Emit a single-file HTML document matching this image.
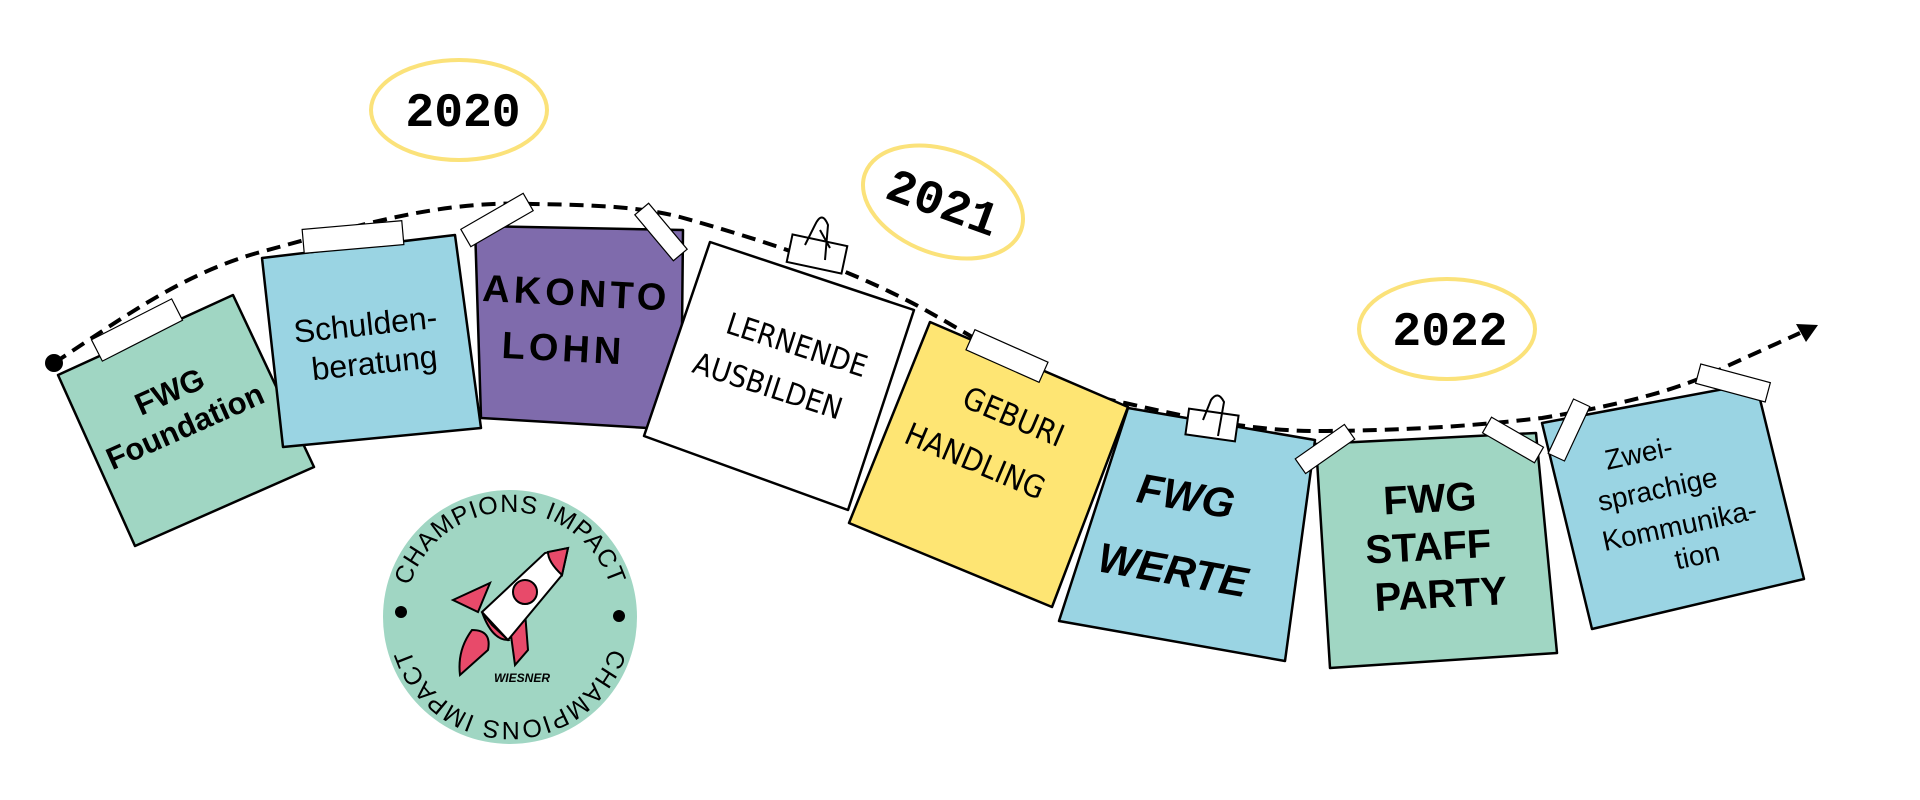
<!DOCTYPE html>
<html><head><meta charset="utf-8"><style>
html,body{margin:0;padding:0;background:#fff;}
svg{display:block}
.s{font-family:"Liberation Sans",sans-serif;}
.b{font-family:"Liberation Sans",sans-serif;font-weight:bold;}
.m{font-family:"Liberation Mono",monospace;font-weight:bold;}
.n{font-family:"DejaVu Sans Condensed","Liberation Sans",sans-serif;}
</style></head><body>
<svg width="1920" height="800" viewBox="0 0 1920 800" xmlns="http://www.w3.org/2000/svg">
<!-- year ellipses -->
<ellipse cx="459" cy="110" rx="88" ry="50" fill="none" stroke="#fbe27a" stroke-width="4"/>
<text x="463" y="126" class="m" font-size="48" text-anchor="middle" fill="#000">2020</text>
<g transform="rotate(20 943 202)">
<ellipse cx="943" cy="202" rx="83" ry="52" fill="none" stroke="#fbe27a" stroke-width="4"/>
<text x="943" y="218" class="m" font-size="48" text-anchor="middle" fill="#000">2021</text>
</g>
<ellipse cx="1447" cy="329" rx="88" ry="50" fill="none" stroke="#fbe27a" stroke-width="4"/>
<text x="1450" y="345" class="m" font-size="48" text-anchor="middle" fill="#000">2022</text>

<!-- dashed line -->
<path d="M54 363 C120 320 180 275 257 253 C360 225 440 200 533 204 C600 205 640 207 680 217 C780 245 850 270 918 306 C990 345 1050 390 1125 403 C1200 420 1260 432 1327 431 C1420 430 1480 425 1542 418 C1620 405 1680 390 1725 367 L1800 333" fill="none" stroke="#000" stroke-width="4" stroke-dasharray="14 8"/>
<polygon points="1818,325 1796,324 1806,342" fill="#000"/>
<circle cx="54" cy="363" r="9" fill="#000"/>

<!-- notes -->
<g stroke="#000" stroke-width="2.5" stroke-linejoin="round">
<polygon points="58,375 233,295 314,467 135,546" fill="#a0d6c3"/>
<polygon points="262,258 455,235 481,428 283,447" fill="#9ad4e3"/>
<polygon points="475,226 683,230 681,430 481,418" fill="#7f6bac"/>
<polygon points="710,242 914,310 848,510 644,436" fill="#fff"/>
<polygon points="930,322 1128,407 1052,607 849,523" fill="#fee573"/>
<polygon points="1128,408 1315,440 1285,661 1059,621" fill="#9ad4e3"/>
<polygon points="1316,444 1536,433 1557,653 1330,668" fill="#a0d6c3"/>
<polygon points="1542,423 1756,383 1804,579 1592,629" fill="#9ad4e3"/>
</g>

<!-- tapes -->
<g fill="#fff" stroke="#000" stroke-width="1.2">
<rect x="-45" y="-12" width="90" height="24" transform="translate(137 330) rotate(-27)"/>
<rect x="-50" y="-12" width="100" height="24" transform="translate(353 237) rotate(-5)"/>
<rect x="-36" y="-10" width="72" height="20" transform="translate(497 220) rotate(-30)"/>
<rect x="-30" y="-9" width="60" height="18" transform="translate(661 232) rotate(50)"/>
<rect x="-40" y="-11" width="80" height="22" transform="translate(1007 356) rotate(24)"/>
<rect x="-30" y="-9" width="60" height="18" transform="translate(1325 449) rotate(-35)"/>
<rect x="-30" y="-9" width="60" height="18" transform="translate(1513 440) rotate(30)"/>
<rect x="-30" y="-9" width="60" height="18" transform="translate(1569 430) rotate(-65)"/>
<rect x="-36" y="-10" width="72" height="20" transform="translate(1733 383) rotate(15)"/>
</g>
<!-- clips -->
<g fill="none" stroke="#000" stroke-width="2">
<rect x="789" y="240" width="56" height="28" transform="rotate(12 817 254)" fill="#fff"/>
<path d="M805 245 L815 225 Q822 210 828 225 L825 260 M830 248 L820 230"/>
<rect x="1187" y="412" width="50" height="26" transform="rotate(8 1212 425)" fill="#fff"/>
<path d="M1203 420 L1211 400 Q1218 390 1224 402 L1218 436"/>
</g>

<!-- texts -->
<g transform="rotate(-24 180 415)"><text x="180" y="400" class="b" font-size="31" text-anchor="middle">FWG</text><text x="180" y="438" class="b" font-size="31" text-anchor="middle">Foundation</text></g>
<g transform="rotate(-6 370 340)" class="s" font-size="32" text-anchor="middle"><text x="367" y="335">Schulden-</text><text x="372" y="374">beratung</text></g>
<g transform="rotate(3 580 320)" class="b" font-size="38" text-anchor="middle" letter-spacing="4"><text x="575" y="306">AKONTO</text><text x="565" y="362">LOHN</text></g>
<g transform="rotate(18 783 365)" class="n" font-size="30" text-anchor="middle"><text x="790" y="352">LERNENDE</text><text x="775" y="400">AUSBILDEN</text></g>
<g transform="rotate(23 995 440)" class="n" font-size="31" text-anchor="middle"><text x="1003" y="422">GEBURI</text><text x="985" y="478">HANDLING</text></g>
<g transform="rotate(10 1180 530)" class="b" font-size="42" text-anchor="middle" font-style="italic"><text x="1180" y="510">FWG</text><text x="1180" y="585">WERTE</text></g>
<g transform="rotate(-3 1432 540)" class="b" font-size="40" text-anchor="middle"><text x="1432" y="512">FWG</text><text x="1428" y="560">STAFF</text><text x="1438" y="608">PARTY</text></g>
<g transform="rotate(-12 1668 505)" class="s" font-size="28" text-anchor="middle"><text x="1650" y="458">Zwei-</text><text x="1661" y="497">sprachige</text><text x="1675" y="537">Kommunika-</text><text x="1686" y="570">tion</text></g>

<!-- badge -->
<circle cx="510" cy="617" r="127" fill="#a0d6c3"/>
<defs>
<path id="top" d="M405 617 A105 105 0 0 1 615 617"/>
</defs>
<text class="s" font-size="25" fill="#000" letter-spacing="1"><textPath href="#top" startOffset="50%" text-anchor="middle">CHAMPIONS IMPACT</textPath></text>
<text class="s" font-size="25" fill="#000" letter-spacing="1" transform="rotate(180 510 617)"><textPath href="#top" startOffset="50%" text-anchor="middle">CHAMPIONS IMPACT</textPath></text>
<circle cx="401" cy="612" r="6" fill="#000"/>
<circle cx="619" cy="616" r="6" fill="#000"/>
<!-- rocket -->
<g stroke="#000" stroke-width="2">
<path d="M453 600 L490 583 L478 612 Z" fill="#e84a6a"/>
<path d="M510 628 L515 665 L528 650 L525 612 Z" fill="#e84a6a"/>
<path d="M482 612 L545 553 L568 548 L562 575 L508 640 Z" fill="#fff"/>
<path d="M548 552 L568 548 L562 575 Q548 562 548 552Z" fill="#e84a6a"/>
<circle cx="525" cy="592" r="12" fill="#e84a6a"/>
<path d="M482 612 Q492 640 508 640 L492 625Z" fill="#e84a6a"/>
<path d="M472 630 Q492 630 488 650 L460 675 Q457 650 472 630Z" fill="#e84a6a"/>
</g>
<text x="522" y="682" class="b" font-size="12" font-style="italic" text-anchor="middle">WIESNER</text>
</svg>
</body></html>
